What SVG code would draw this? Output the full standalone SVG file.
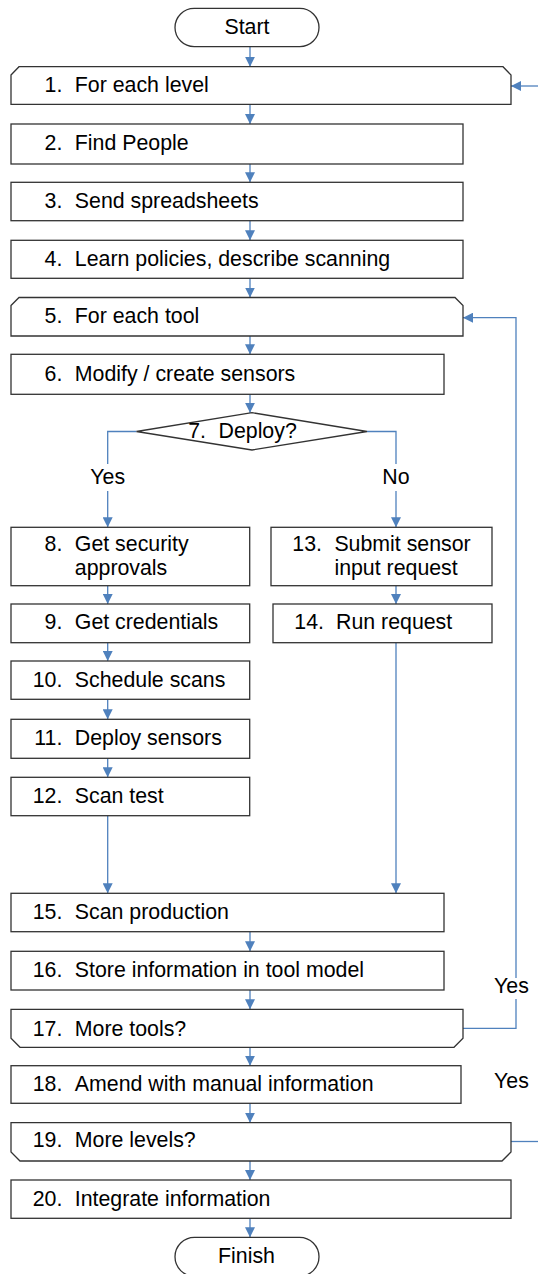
<svg xmlns="http://www.w3.org/2000/svg" width="538" height="1274" viewBox="0 0 538 1274">
<style>
.b{fill:#fff;stroke:#333;stroke-width:1.3}
.t{font-family:"Liberation Sans",Arial,sans-serif;font-size:21.33px;fill:#000}
.n{text-anchor:end}
.m{text-anchor:middle}
.c{fill:none;stroke:#4F81BD;stroke-width:1.3}
</style>
<defs>
<marker id="ah" viewBox="0 0 10 10" refX="10" refY="5" markerWidth="10" markerHeight="10" markerUnits="userSpaceOnUse" orient="auto">
<path d="M0,0 L10,5 L0,10 z" fill="#4F81BD"/>
</marker>
</defs>
<rect width="538" height="1274" fill="#fff"/>
<g id="connectors">
<path class="c" d="M250,46.7 V66.7" marker-end="url(#ah)"/>
<path class="c" d="M250,104.3 V124" marker-end="url(#ah)"/>
<path class="c" d="M250,164 V182.3" marker-end="url(#ah)"/>
<path class="c" d="M250,220.7 V240.3" marker-end="url(#ah)"/>
<path class="c" d="M250,278.3 V297.5" marker-end="url(#ah)"/>
<path class="c" d="M250,336 V354.3" marker-end="url(#ah)"/>
<path class="c" d="M250,394.3 V412.7" marker-end="url(#ah)"/>
<path class="c" d="M136.5,431.5 H107.7 V464"/>
<path class="c" d="M107.7,491 V527.3" marker-end="url(#ah)"/>
<path class="c" d="M367,431.5 H396 V464"/>
<path class="c" d="M396,491 V527.3" marker-end="url(#ah)"/>
<path class="c" d="M107.7,585.7 V604" marker-end="url(#ah)"/>
<path class="c" d="M396,585.7 V604" marker-end="url(#ah)"/>
<path class="c" d="M107.7,642.7 V661" marker-end="url(#ah)"/>
<path class="c" d="M107.7,699.3 V719.3" marker-end="url(#ah)"/>
<path class="c" d="M107.7,758.3 V777.3" marker-end="url(#ah)"/>
<path class="c" d="M107.7,815.7 V893.3" marker-end="url(#ah)"/>
<path class="c" d="M396,642.7 V893.3" marker-end="url(#ah)"/>
<path class="c" d="M250,931.7 V951.3" marker-end="url(#ah)"/>
<path class="c" d="M250,990 V1009.3" marker-end="url(#ah)"/>
<path class="c" d="M250,1047.3 V1065.7" marker-end="url(#ah)"/>
<path class="c" d="M250,1103.3 V1122.7" marker-end="url(#ah)"/>
<path class="c" d="M250,1161 V1180" marker-end="url(#ah)"/>
<path class="c" d="M250,1218.3 V1237.3" marker-end="url(#ah)"/>
<path class="c" d="M463,1028.3 H516 V999"/>
<path class="c" d="M516,978 V317.7 H463" marker-end="url(#ah)"/>
<path class="c" d="M511,1141.5 H538"/>
<path class="c" d="M538,86 H511" marker-end="url(#ah)"/>
<text class="t m" x="107.7" y="483.5">Yes</text>
<text class="t m" x="396" y="483.5">No</text>
<text class="t" x="494" y="992.7">Yes</text>
<text class="t" x="494" y="1088">Yes</text>
</g>
<g id="start">
<rect class="b" x="175" y="8.3" width="144" height="38.4" rx="19.2"/>
<text class="t m" x="247" y="34">Start</text>
</g>
<g id="n1">
<path class="b" d="M11,75 L19,66.7 L503,66.7 L511,75 L511,104.3 L11,104.3 Z"/>
<text class="t n" x="62.4" y="92">1.</text><text class="t" x="74.8" y="92">For each level</text>
</g>
<g id="n2">
<rect class="b" x="11" y="124" width="452" height="40"/>
<text class="t n" x="62.4" y="149.5">2.</text><text class="t" x="74.8" y="149.5">Find People</text>
</g>
<g id="n3">
<rect class="b" x="11" y="182.3" width="452" height="38.4"/>
<text class="t n" x="62.4" y="207.8">3.</text><text class="t" x="74.8" y="207.8">Send spreadsheets</text>
</g>
<g id="n4">
<rect class="b" x="11" y="240.3" width="452" height="38"/>
<text class="t n" x="62.4" y="265.8">4.</text><text class="t" x="74.8" y="265.8">Learn policies, describe scanning</text>
</g>
<g id="n5">
<path class="b" d="M11,305.5 L19,297.5 L455,297.5 L463,305.5 L463,336 L11,336 Z"/>
<text class="t n" x="62.4" y="323.3">5.</text><text class="t" x="74.8" y="323.3">For each tool</text>
</g>
<g id="n6">
<rect class="b" x="11" y="354.3" width="433" height="40"/>
<text class="t n" x="62.4" y="380.5">6.</text><text class="t" x="74.8" y="380.5">Modify / create sensors</text>
</g>
<g id="n7">
<polygon class="b" points="136.5,431.5 252,412.7 367,431.5 252,450"/>
<text class="t n" x="206" y="437.7">7.</text><text class="t" x="218.5" y="437.7">Deploy?</text>
</g>
<g id="n8">
<rect class="b" x="11" y="527.3" width="238.7" height="58.4"/>
<text class="t n" x="62.4" y="550.7">8.</text><text class="t" x="74.8" y="550.7">Get security</text>
<text class="t" x="74.8" y="575">approvals</text>
</g>
<g id="n9">
<rect class="b" x="11" y="604" width="238.7" height="38.7"/>
<text class="t n" x="62.4" y="629.3">9.</text><text class="t" x="74.8" y="629.3">Get credentials</text>
</g>
<g id="n10">
<rect class="b" x="11" y="661" width="238.7" height="38.3"/>
<text class="t n" x="62.4" y="686.7">10.</text><text class="t" x="74.8" y="686.7">Schedule scans</text>
</g>
<g id="n11">
<rect class="b" x="11" y="719.3" width="238.7" height="39"/>
<text class="t n" x="62.4" y="745">11.</text><text class="t" x="74.8" y="745">Deploy sensors</text>
</g>
<g id="n12">
<rect class="b" x="11" y="777.3" width="238.7" height="38.4"/>
<text class="t n" x="62.4" y="803">12.</text><text class="t" x="74.8" y="803">Scan test</text>
</g>
<g id="n13">
<rect class="b" x="271" y="527.3" width="221" height="58.4"/>
<text class="t n" x="322" y="550.7">13.</text><text class="t" x="334.4" y="550.7">Submit sensor</text>
<text class="t" x="334.4" y="575">input request</text>
</g>
<g id="n14">
<rect class="b" x="273" y="604" width="219" height="38.7"/>
<text class="t n" x="324" y="629.3">14.</text><text class="t" x="336" y="629.3">Run request</text>
</g>
<g id="n15">
<rect class="b" x="11" y="893.3" width="433" height="38.4"/>
<text class="t n" x="62.4" y="919">15.</text><text class="t" x="74.8" y="919">Scan production</text>
</g>
<g id="n16">
<rect class="b" x="11" y="951.3" width="433" height="38.7"/>
<text class="t n" x="62.4" y="977">16.</text><text class="t" x="74.8" y="977">Store information in tool model</text>
</g>
<g id="n17">
<path class="b" d="M11,1009.3 L463,1009.3 L463,1038.3 L454,1047.3 L20,1047.3 L11,1038.3 Z"/>
<text class="t n" x="62.4" y="1035.5">17.</text><text class="t" x="74.8" y="1035.5">More tools?</text>
</g>
<g id="n18">
<rect class="b" x="11" y="1065.7" width="450" height="37.6"/>
<text class="t n" x="62.4" y="1091">18.</text><text class="t" x="74.8" y="1091">Amend with manual information</text>
</g>
<g id="n19">
<path class="b" d="M11,1122.7 L511,1122.7 L511,1152 L502,1161 L20,1161 L11,1152 Z"/>
<text class="t n" x="62.4" y="1147.3">19.</text><text class="t" x="74.8" y="1147.3">More levels?</text>
</g>
<g id="n20">
<rect class="b" x="11" y="1180" width="500" height="38.3"/>
<text class="t n" x="62.4" y="1206">20.</text><text class="t" x="74.8" y="1206">Integrate information</text>
</g>
<g id="finish">
<rect class="b" x="175" y="1237.3" width="144" height="39" rx="19.5"/>
<text class="t m" x="246.5" y="1263.3">Finish</text>
</g>
</svg>
